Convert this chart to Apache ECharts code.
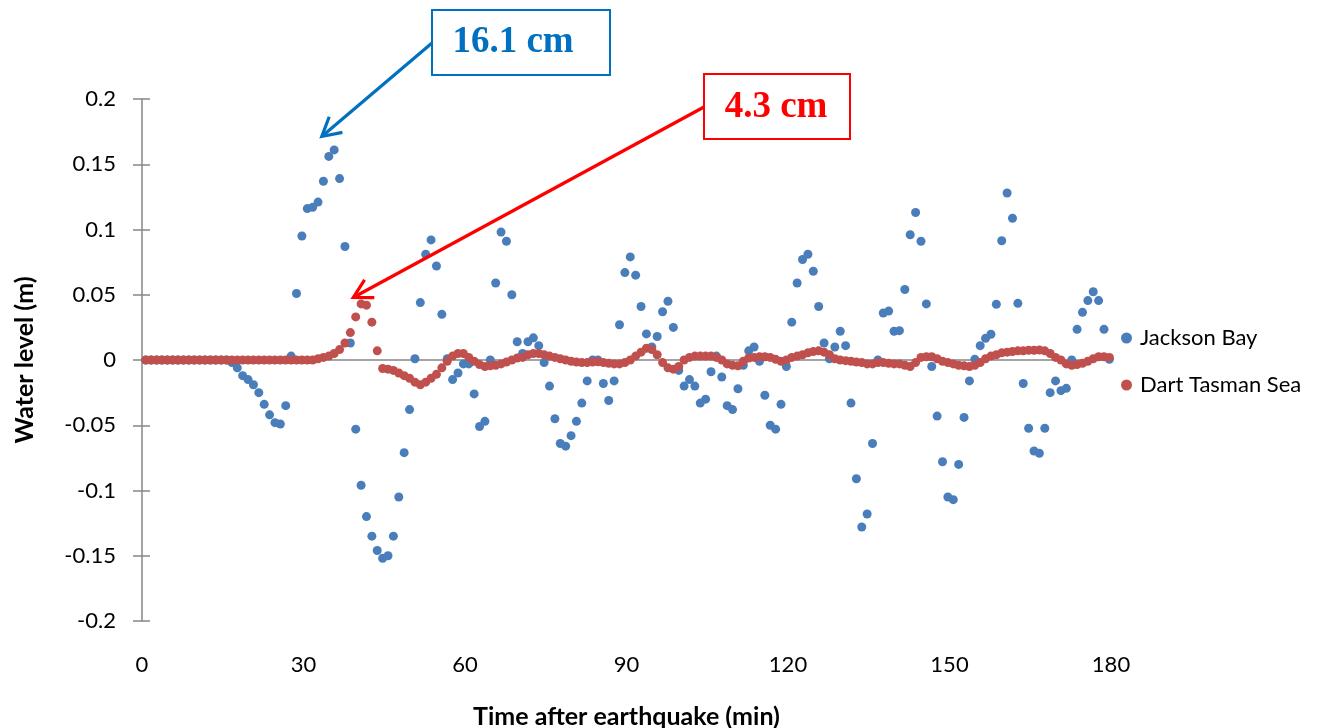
<!DOCTYPE html>
<html>
<head>
<meta charset="utf-8">
<script src="https://cdn.jsdelivr.net/npm/echarts@6/dist/echarts.min.js"></script>
<style>
html,body{margin:0;padding:0;background:#fff;}
#chart{width:1324px;height:728px;}
</style>
</head>
<body>
<div id="chart"></div>
<script>
// ---- Data (minutes after earthquake, sampled each minute; first sample ~0.7 min) ----
const sampleStart = 0.7;
const xTicks = [0, 30, 60, 90, 120, 150, 180];
const yTicks = [-0.2, -0.15, -0.1, -0.05, 0, 0.05, 0.1, 0.15, 0.2];

const jacksonBay = [
  0,0,0,0,0,0,0,0,0,0,
  0,0,0,0,0,0,-0.002,-0.006,-0.012,-0.015,
  -0.019,-0.025,-0.034,-0.042,-0.048,-0.049,-0.035,0.003,0.051,0.095,
  0.116,0.117,0.121,0.137,0.156,0.161,0.139,0.087,0.013,-0.053,
  -0.096,-0.12,-0.135,-0.146,-0.152,-0.15,-0.135,-0.105,-0.071,-0.038,
  0.001,0.044,0.081,0.092,0.072,0.035,0.001,-0.015,-0.01,-0.003,
  -0.003,-0.026,-0.051,-0.047,0.0,0.059,0.098,0.091,0.05,0.014,
  0.005,0.014,0.017,0.011,-0.002,-0.02,-0.045,-0.064,-0.066,-0.058,
  -0.047,-0.033,-0.016,0,0,-0.018,-0.031,-0.016,0.027,0.067,
  0.079,0.065,0.041,0.02,0.01,0.018,0.037,0.045,0.025,-0.008,
  -0.02,-0.015,-0.02,-0.033,-0.03,-0.009,0.003,-0.013,-0.035,-0.038,
  -0.022,-0.004,0.007,0.01,-0.001,-0.027,-0.05,-0.053,-0.034,-0.005,
  0.029,0.059,0.077,0.081,0.068,0.041,0.013,0.001,0.01,0.022,
  0.011,-0.033,-0.091,-0.128,-0.118,-0.064,0,0.036,0.0375,0.022,
  0.0225,0.054,0.096,0.113,0.091,0.043,-0.005,-0.043,-0.078,-0.105,
  -0.107,-0.08,-0.044,-0.016,0.0005,0.011,0.0166,0.0197,0.0427,0.0914,
  0.128,0.1086,0.0434,-0.018,-0.0523,-0.0697,-0.0715,-0.0523,-0.025,-0.016,
  -0.0235,-0.0217,0,0.0235,0.0365,0.0455,0.0523,0.0455,0.0235,0.0005
];

const dartTasman = [
  0,0,0,0,0,0,0,0,0,0,
  0,0,0,0,0,0,0,0,0,0,
  0,0,0,0,0,0,0,0,0,0,
  0,0,0.001,0.002,0.003,0.005,0.008,0.013,0.021,0.033,
  0.043,0.042,0.029,0.007,-0.0065,-0.007,-0.008,-0.01,-0.012,-0.014,
  -0.017,-0.019,-0.017,-0.014,-0.011,-0.006,-0.001,0.003,0.005,0.005,
  0.002,-0.001,-0.0035,-0.005,-0.0045,-0.004,-0.003,-0.0015,0,0.0015,
  0.002,0.004,0.005,0.005,0.004,0.003,0.002,0.001,0,-0.001,
  -0.0015,-0.002,-0.002,-0.0015,-0.0013,-0.002,-0.0025,-0.003,-0.003,-0.002,
  0,0.003,0.006,0.009,0.008,0.004,-0.002,-0.006,-0.007,-0.005,
  0,0.002,0.003,0.003,0.003,0.003,0.002,0,-0.003,-0.004,
  -0.0045,-0.001,0.0015,0.002,0.0025,0.0025,0.002,0.0005,-0.001,0,
  0.002,0.003,0.004,0.0055,0.0065,0.007,0.006,0.004,0.001,0,
  -0.0005,-0.001,-0.0015,-0.002,-0.003,-0.003,-0.002,-0.002,-0.0025,-0.003,
  -0.003,-0.004,-0.005,-0.002,0.002,0.0025,0.0025,0.001,-0.001,-0.002,
  -0.003,-0.004,-0.0045,-0.005,-0.004,-0.002,0.001,0.003,0.004,0.0055,
  0.006,0.0065,0.007,0.007,0.0075,0.0075,0.0077,0.007,0.005,0.002,
  0,-0.003,-0.004,-0.0035,-0.0025,-0.001,0.001,0.0025,0.0025,0.002
];

const seriesNames = ['Jackson Bay', 'Dart Tasman Sea'];
const annotations = [
  {text: '16.1 cm', color: '#0070C0', tip: [33.4, 0.1713]},
  {text: '4.3 cm', color: '#FF0000', tip: [39.25, 0.0479]}
];

const toPairs = arr => arr.map((v, i) => [sampleStart + i, v]);

const FONT = 'Lato, "Open Sans", sans-serif';
const AXIS_GRAY = '#868686';

const chart = echarts.init(document.getElementById('chart'), null, {renderer: 'canvas'});

const option = {
  animation: false,
  backgroundColor: '#ffffff',
  grid: {left: 142, right: 213, top: 99, bottom: 107, containLabel: false, outerBoundsMode: 'none'},
  legend: {
    orient: 'vertical',
    left: 1116,
    top: 322,
    itemGap: 25,
    itemWidth: 11,
    itemHeight: 11,
    icon: 'circle',
    textStyle: {fontFamily: FONT, fontSize: 22, color: '#000', padding: [0, 0, 0, 3]},
    data: seriesNames
  },
  xAxis: {
    type: 'value',
    min: 0, max: 180, interval: 30,
    axisLine: {show: false, onZero: false},
    axisTick: {show: false},
    splitLine: {show: false},
    axisLabel: {fontFamily: FONT, fontSize: 22, color: '#000', margin: 33},
    name: 'Time after earthquake (min)',
    nameLocation: 'middle',
    nameGap: 83,
    nameTextStyle: {fontFamily: FONT, fontSize: 25, fontWeight: 'bold', color: '#000'}
  },
  yAxis: [{
    type: 'value',
    min: -0.2, max: 0.2, interval: 0.05,
    axisLine: {show: true, onZero: false, lineStyle: {color: AXIS_GRAY, width: 1.5}},
    axisTick: {show: true, length: 9, lineStyle: {color: AXIS_GRAY, width: 1.5}},
    splitLine: {show: false},
    axisLabel: {fontFamily: FONT, fontSize: 22, color: '#000', margin: 26,
      formatter: v => String(Math.round(v * 100) / 100)},
    name: 'Water level (m)',
    nameLocation: 'middle',
    nameGap: 105,
    nameTextStyle: {fontFamily: FONT, fontSize: 25, fontWeight: 'bold', color: '#000'}
  }, {
    type: 'value',
    position: 'left',
    min: -0.2, max: 0.2, interval: 0.05,
    axisLine: {show: false, onZero: false},
    axisTick: {show: true, inside: true, length: 8, lineStyle: {color: AXIS_GRAY, width: 1.5}},
    axisLabel: {show: false},
    splitLine: {show: false}
  }],
  series: [{
    name: seriesNames[0],
    type: 'scatter',
    symbol: 'circle',
    symbolSize: 9,
    itemStyle: {color: '#4A7EBB', opacity: 1},
    data: toPairs(jacksonBay),
    markLine: {
      silent: true,
      symbol: 'none',
      label: {show: false},
      lineStyle: {color: AXIS_GRAY, width: 1.5, type: 'solid'},
      data: [{yAxis: 0}],
      z: 1
    },
    z: 2
  }, {
    name: seriesNames[1],
    type: 'scatter',
    symbol: 'circle',
    symbolSize: 9,
    itemStyle: {color: '#C0504D', opacity: 1},
    data: toPairs(dartTasman),
    z: 3
  }]
};

chart.setOption(option);

// ---- annotation boxes + arrows ----
const boxes = [
  {x: 432, y: 10, w: 178, h: 65, textX: 513, textY: 42},
  {x: 704, y: 74, w: 146, h: 65, textX: 776, textY: 107}
];
const starts = [[432, 43], [704, 107]];

function arrowGraphics(from, to, color) {
  const dx = to[0] - from[0], dy = to[1] - from[1];
  const len = Math.sqrt(dx * dx + dy * dy);
  const ux = dx / len, uy = dy / len;
  const wing = 21, ang = Math.PI / 6.2;
  const cos = Math.cos(ang), sin = Math.sin(ang);
  const w1 = [to[0] - wing * (ux * cos - uy * sin), to[1] - wing * (uy * cos + ux * sin)];
  const w2 = [to[0] - wing * (ux * cos + uy * sin), to[1] - wing * (uy * cos - ux * sin)];
  return [
    {type: 'polyline', shape: {points: [from, [to[0] - ux * 1.5, to[1] - uy * 1.5]]},
     style: {stroke: color, lineWidth: 3.2, fill: null}, z: 100},
    {type: 'polyline', shape: {points: [w1, to, w2]},
     style: {stroke: color, lineWidth: 3.2, fill: null, lineJoin: 'miter'}, z: 100}
  ];
}

const graphics = [];
annotations.forEach((a, i) => {
  const b = boxes[i];
  const tip = chart.convertToPixel({gridIndex: 0}, a.tip);
  graphics.push(...arrowGraphics(starts[i], tip, a.color));
  graphics.push({
    type: 'rect', shape: {x: b.x, y: b.y, width: b.w, height: b.h},
    style: {stroke: a.color, lineWidth: 2, fill: '#ffffff'}, z: 101
  });
  graphics.push({
    type: 'text', x: b.textX, y: b.textY,
    style: {text: a.text, fill: a.color, font: 'bold 37px "Liberation Serif", "Times New Roman", serif',
            textAlign: 'center', textVerticalAlign: 'middle'}, z: 102
  });
});
chart.setOption({graphic: graphics});
</script>
</body>
</html>
